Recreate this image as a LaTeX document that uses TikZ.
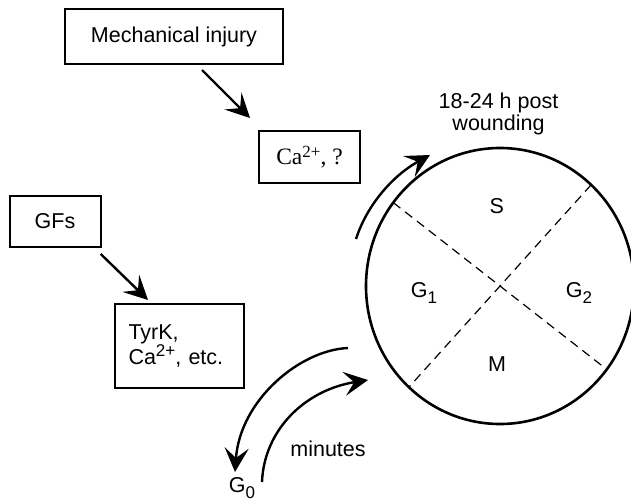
\documentclass[tikz,border=0pt]{standalone}
\usepackage{fontspec}
\setmainfont{Liberation Sans}
\newfontfamily\timesfont{Liberation Serif}
\usetikzlibrary{arrows.meta,shapes.geometric}

\newcommand{\lbl}{\fontsize{21.5}{22.5}\selectfont}
\newcommand{\idx}[1]{\raisebox{-6pt}{\fontsize{17}{17}\selectfont #1}}
\newcommand{\upidx}[1]{\raisebox{7.5pt}{\fontsize{17}{17}\selectfont #1}}

\tikzset{
  box/.style={draw, line width=2pt, inner sep=0pt, font=\lbl},
  arr/.style={line width=2.4pt, -{Stealth[length=24pt,width=24pt,inset=10pt]}},
  cut/.style={line width=1.2pt, dash pattern=on 9pt off 6pt},
  phase/.style={anchor=base, font=\lbl, inner sep=0pt}
}

\begin{document}
\begin{tikzpicture}[x=1pt,y=-1pt]
      \useasboundingbox (0,0) rectangle (631,503);
      \clip (0,0) rectangle (631,503);
      \pgfmathsetmacro{\cx}{500}
      \pgfmathsetmacro{\cy}{286}
      % stimuli
      \node[box, minimum width=218pt, minimum height=55pt] (mech) at (174,36.7) {Mechanical injury};
      \node[box, minimum width=101pt, minimum height=52pt, font=\timesfont\fontsize{23.5}{24}\selectfont] (ca) at (309.5,157) {Ca\upidx{2+}, ?};
      \node[box, minimum width=91pt, minimum height=51pt] (gf) at (55,221.5) {GFs};
      \node[box, minimum width=129pt, minimum height=84pt, text width=102pt, align=left] (tyr) at (179.5,346) {TyrK,\\Ca\upidx{2+}, etc.};
      \coordinate (m1) at (202,70);
      \coordinate (m2) at (250,118);
      \coordinate (g1) at (100.7,254);
      \coordinate (g2) at (148,300);
      \draw[arr] (m1) -- (m2);
      \draw[arr] (g1) -- (g2);
      % cell cycle
      \node[draw, ellipse, line width=2.6pt, inner sep=0pt, outer sep=0pt, minimum width=268pt, minimum height=276pt] (cyc) at (\cx,\cy) {};
      \draw[cut] (cyc.142) -- (cyc.-38);
      \draw[cut] (cyc.48) -- (cyc.228);
      \node[phase] (s) at (496.7,213.3) {S};
      \node[phase] (ga) at (424,297.7) {G\idx{1}};
      \node[phase] (gb) at (579,297) {G\idx{2}};
      \node[phase] (mm) at (497,371.7) {M};
      \node[phase, align=center] (post) at (498.5,130.7) {18-24 h post\\wounding};
      % entry and exit arrows
      \coordinate (t1) at (356,239);
      \coordinate (t2) at (430,155);
      \draw[arr] (t1) .. controls (367.7,202.9) and (394.7,174.4) .. (t2);
      \coordinate (q1) at (348,348);
      \coordinate (q2) at (235,472);
      \draw[arr] (q1) .. controls (300,350) and (240,400) .. (q2);
      \coordinate (r1) at (262,482);
      \coordinate (r2) at (368,380);
      \draw[arr] (r1) .. controls (264,430) and (305,390) .. (r2);
      \node[phase] (min) at (328,456.7) {minutes};
      \node[phase] (g0) at (242,492) {G\idx{0}};
\end{tikzpicture}
\end{document}
